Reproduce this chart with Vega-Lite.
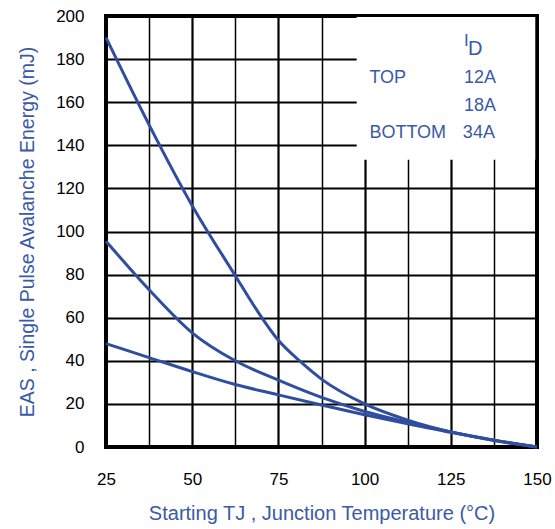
{
  "$schema": "https://vega.github.io/schema/vega-lite/v6.json",
  "autosize": {"type": "none"},
  "width": 431,
  "height": 431,
  "padding": {"left": 106, "top": 16, "right": 18, "bottom": 82},
  "background": "white",
  "config": {
    "view": {"stroke": "black", "strokeWidth": 4},
    "font": "Liberation Sans"
  },
  "datasets": {
    "curves": [
      {"id": "12A", "t": 25, "e": 190}, {"id": "12A", "t": 37.5, "e": 149.5}, {"id": "12A", "t": 50, "e": 112},
      {"id": "12A", "t": 62.5, "e": 79.5}, {"id": "12A", "t": 68.75, "e": 63.5}, {"id": "12A", "t": 75, "e": 49.5},
      {"id": "12A", "t": 81.25, "e": 39.8}, {"id": "12A", "t": 87.5, "e": 31.5},
      {"id": "12A", "t": 100, "e": 20}, {"id": "12A", "t": 112.5, "e": 12.5}, {"id": "12A", "t": 125, "e": 7},
      {"id": "12A", "t": 137.5, "e": 3}, {"id": "12A", "t": 150, "e": 0},
      {"id": "18A", "t": 25, "e": 95.5}, {"id": "18A", "t": 37.5, "e": 73}, {"id": "18A", "t": 50, "e": 53},
      {"id": "18A", "t": 62.5, "e": 40}, {"id": "18A", "t": 75, "e": 31}, {"id": "18A", "t": 87.5, "e": 23},
      {"id": "18A", "t": 100, "e": 16.5}, {"id": "18A", "t": 112.5, "e": 11.5}, {"id": "18A", "t": 125, "e": 7},
      {"id": "18A", "t": 137.5, "e": 3.2}, {"id": "18A", "t": 150, "e": 0},
      {"id": "34A", "t": 25, "e": 48}, {"id": "34A", "t": 37.5, "e": 41.5}, {"id": "34A", "t": 50, "e": 35},
      {"id": "34A", "t": 62.5, "e": 29}, {"id": "34A", "t": 75, "e": 24.2}, {"id": "34A", "t": 87.5, "e": 19.5},
      {"id": "34A", "t": 100, "e": 15}, {"id": "34A", "t": 112.5, "e": 10.8}, {"id": "34A", "t": 125, "e": 6.8},
      {"id": "34A", "t": 137.5, "e": 3.2}, {"id": "34A", "t": 150, "e": 0}
    ],
    "box": [{"x1": 97.7, "x2": 149.5, "y1": 133.3, "y2": 199.5}],
    "rticks": [{"y": 180}, {"y": 160}, {"y": 140}],
    "labels": [
      {"txt": "TOP", "x": 101.4, "y": 171.2},
      {"txt": "12A", "x": 128.8, "y": 171.2},
      {"txt": "18A", "x": 128.8, "y": 158.2},
      {"txt": "BOTTOM", "x": 101.4, "y": 145.7},
      {"txt": "34A", "x": 128.5, "y": 145.7}
    ],
    "idI": [{"txt": "I", "x": 128.8, "y": 188.2}],
    "idD": [{"txt": "D", "x": 130.0, "y": 184.5}]
  },
  "encoding": {
    "x": {
      "field": "t", "type": "quantitative",
      "scale": {"domain": [25, 150], "nice": false, "zero": false},
      "axis": {
        "values": [25, 37.5, 50, 62.5, 75, 87.5, 100, 112.5, 125, 137.5, 150],
        "labelExpr": "datum.value % 25 === 0 ? datum.label : ''",
        "title": "Starting TJ , Junction Temperature (°C)",
        "grid": true, "gridColor": "black",
        "gridWidth": {"condition": {"test": "datum.value % 25 === 0", "value": 2.2}, "value": 1.5},
        "ticks": false, "domain": false,
        "labelFontSize": 17, "labelColor": "black", "labelPadding": 24,
        "labelFont": "Liberation Sans", "labelFlush": false,
        "titleFontSize": 20, "titleColor": "#3a5aa8", "titleFontWeight": "normal",
        "titleFont": "Liberation Sans", "titlePadding": 16
      }
    },
    "y": {
      "field": "e", "type": "quantitative",
      "scale": {"domain": [0, 200], "nice": false},
      "axis": {
        "values": [0, 20, 40, 60, 80, 100, 120, 140, 160, 180, 200],
        "title": "EAS , Single Pulse Avalanche Energy (mJ)",
        "grid": true, "gridColor": "black", "gridWidth": 2,
        "ticks": false, "domain": false,
        "labelFontSize": 17, "labelColor": "black", "labelPadding": 22,
        "labelFont": "Liberation Sans",
        "titleFontSize": 19.5, "titleColor": "#3a5aa8", "titleFontWeight": "normal",
        "titleFont": "Liberation Sans", "titlePadding": 18
      }
    }
  },
  "layer": [
    {
      "data": {"name": "box"},
      "mark": {"type": "rect", "fill": "white", "stroke": null},
      "encoding": {
        "x": {"field": "x1", "type": "quantitative"},
        "x2": {"field": "x2"},
        "y": {"field": "y1", "type": "quantitative"},
        "y2": {"field": "y2"}
      }
    },
    {
      "data": {"name": "rticks"},
      "mark": {"type": "rule", "color": "black", "strokeWidth": 2},
      "encoding": {
        "x": {"datum": 148.4, "type": "quantitative"},
        "x2": {"datum": 150},
        "y": {"field": "y", "type": "quantitative"}
      }
    },
    {
      "data": {"name": "curves"},
      "mark": {"type": "line", "interpolate": "monotone", "color": "#2f4ea0", "strokeWidth": 3},
      "encoding": {
        "detail": {"field": "id", "type": "nominal"}
      }
    },
    {
      "data": {"name": "labels"},
      "mark": {"type": "text", "align": "left", "baseline": "middle", "fontSize": 18, "color": "#3a5aa8", "font": "Liberation Sans"},
      "encoding": {
        "x": {"field": "x", "type": "quantitative"},
        "y": {"field": "y", "type": "quantitative"},
        "text": {"field": "txt"}
      }
    },
    {
      "data": {"name": "idI"},
      "mark": {"type": "text", "align": "left", "baseline": "middle", "fontSize": 17, "color": "#3a5aa8", "font": "Liberation Sans"},
      "encoding": {
        "x": {"field": "x", "type": "quantitative"},
        "y": {"field": "y", "type": "quantitative"},
        "text": {"field": "txt"}
      }
    },
    {
      "data": {"name": "idD"},
      "mark": {"type": "text", "align": "left", "baseline": "middle", "fontSize": 20, "color": "#3a5aa8", "font": "Liberation Sans"},
      "encoding": {
        "x": {"field": "x", "type": "quantitative"},
        "y": {"field": "y", "type": "quantitative"},
        "text": {"field": "txt"}
      }
    }
  ]
}
